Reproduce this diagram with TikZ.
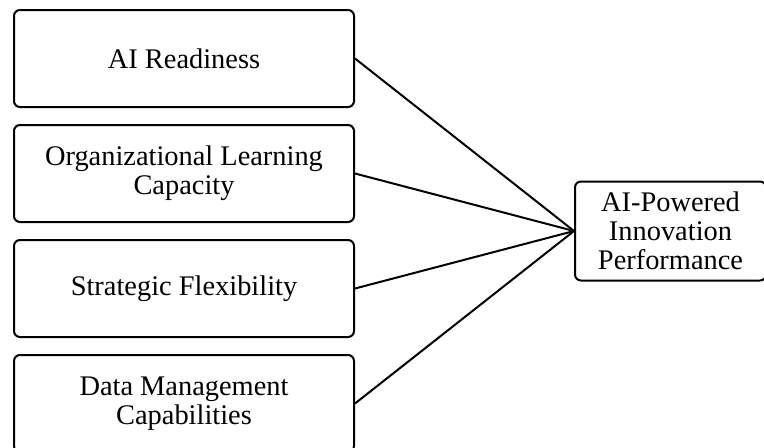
\documentclass[tikz,border=0pt]{standalone}
\usepackage{fontspec}
\setmainfont{Liberation Serif}
\usetikzlibrary{positioning}

\begin{document}
\begin{tikzpicture}[
    node distance=8pt and 109.5pt, % vertical and horizontal spacing
    every node/.style={font=\fontsize{14.2}{14.5}\selectfont},
    factor/.style={draw, line width=1pt, rounded corners=3pt,
        minimum width=170pt, minimum height=48.5pt, align=center,
        inner sep=0pt},
    outcome/.style={factor, minimum width=95.5pt, minimum height=49.5pt},
    link/.style={line width=1pt}
]
    \useasboundingbox (0,0) rectangle (382pt,223.5pt);

    % Place the nodes
    \node (ready) [factor, anchor=north west] at (6.5pt,219pt) {AI Readiness};
    \node (learn) [factor, below=of ready] {Organizational Learning\\Capacity};
    \node (flex)  [factor, below=of learn] {Strategic Flexibility};
    \node (data)  [factor, below=of flex]  {Data Management\\Capabilities};
    \node (perf)  [outcome, right=of learn.south east, yshift=-4pt]
        {AI-Powered\\Innovation\\Performance};

    % Draw the edges
    \draw [link] (ready.east) -- (perf.west);
    \draw [link] (learn.east) -- (perf.west);
    \draw [link] (flex.east) -- (perf.west);
    \draw [link] (data.east) -- (perf.west);
\end{tikzpicture}
\end{document}
